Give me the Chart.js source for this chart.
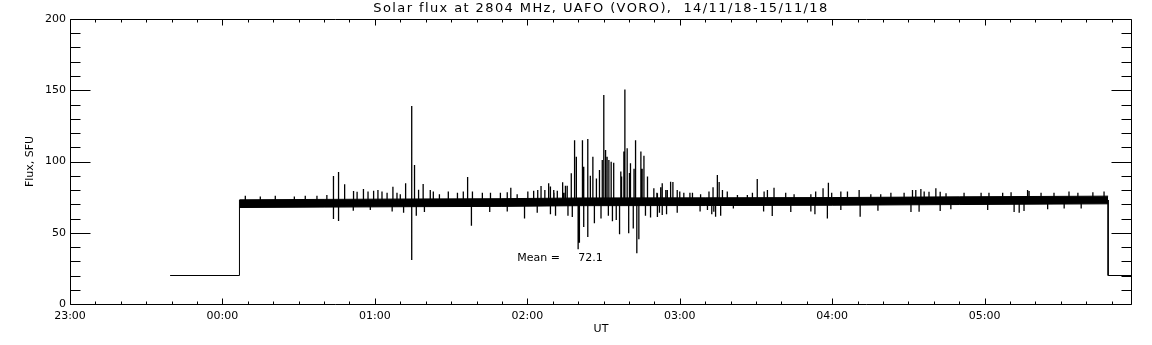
<!DOCTYPE html>
<html>
<head>
<meta charset="utf-8">
<title>Solar flux at 2804 MHz</title>
<script src="https://cdn.jsdelivr.net/npm/chart.js@4/dist/chart.umd.min.js"></script>
<style>
  html, body { margin: 0; padding: 0; background: #fff; }
</style>
</head>
<body>
<canvas id="fluxChart" width="1152" height="345"></canvas>
<script>
// x values are minutes after 23:00 UT (14/11/18)
const hourLabels = ['23:00', '00:00', '01:00', '02:00', '03:00', '04:00', '05:00'];
const yTicks = [0, 50, 100, 150, 200];

// quiet-sun band (lower / upper edge of the dense trace)
const bandTimes = [66.7, 100, 135, 170, 200, 250, 300, 350, 408.6];
const bandLow   = [67.7, 68.0, 68.3, 68.5, 69.0, 69.1, 69.3, 69.8, 70.3];
const bandHigh  = [73.1, 73.4, 73.7, 73.9, 74.4, 74.5, 74.7, 75.2, 75.7];

// receiver off: step at start and at end of the record
const offTimes  = [39.4, 66.7, 66.7, 66.7, 408.6, 408.6, 418];
const offValues = [20, 20, 73, null, 73, 20, 20];

// bursts / dips
const spikeBase = 72;
const spikeTimes = [103.7, 103.7, 105.7, 105.7, 108.1, 111.6, 115.5, 127.1, 132.1, 134.5,
  134.5, 135.6, 136.3, 139.0, 141.8, 145.4, 156.5, 158.0, 173.5, 178.9,
  185.4, 188.4, 190.5, 193.9, 195.0, 196.0, 197.3, 198.6, 199.3, 200.0,
  200.5, 201.7, 202.2, 202.2, 203.8, 203.8, 204.8, 205.8, 206.4, 207.2,
  208.4, 209.0, 209.5, 210.1, 210.8, 211.4, 211.9, 212.1, 213.0, 213.5,
  214.0, 215.0, 216.3, 216.8, 217.1, 218.0, 218.4, 219.3, 219.9, 220.2,
  220.6, 221.7, 222.0, 222.6, 223.1, 223.9, 224.7, 225.2, 225.9, 226.5,
  227.3, 228.5, 229.8, 231.0, 232.0, 233.1, 234.5, 236.4, 237.3, 240.0,
  244.0, 248.0, 253.4, 254.1, 254.8, 255.5, 270.5, 276.4, 277.1, 293.2,
  296.4, 298.1, 298.5, 311.0, 331.6, 334.2, 334.9, 338.1, 340.8, 342.5,
  342.5, 373.6, 375.5, 377.5];
const spikeValues = [89.8, 59.6, 92.6, 58.2, 84, 79.3, 80.7, 82.3, 84.7, 139,
  30.9, 97.5, 62, 84.2, 80, 77, 89.1, 55, 81.5, 60,
  82.8, 84.7, 78, 85.4, 83, 62, 91.7, 115, 103.4, 38.4,
  43, 115, 96.4, 54, 115.8, 47, 90, 103.4, 56.6, 88,
  94, 60, 101, 146.7, 108, 103.4, 62, 101, 99.9, 58,
  99.2, 59, 49, 93, 89.4, 107, 150.6, 109.3, 49.6, 92,
  98.7, 53, 95, 115, 35.6, 45.5, 107, 95, 104, 62,
  89.4, 60.7, 81.2, 78, 64, 84.7, 80, 85.8, 85.6, 79,
  78, 65, 64.8, 61.3, 90.5, 85.6, 87.7, 61.8, 81.6, 63,
  81.2, 60, 85.1, 61.3, 80, 64.8, 80.7, 78.8, 81.2, 78.8,
  65.3, 64, 65.3, 79.3];

// small excursions along the edges of the band
const fuzzTimes = [69.0, 74.9, 80.8, 88.3, 92.6, 97.2, 101.1, 111.5, 113.0, 117.3,
  118.2, 119.5, 121.2, 122.8, 124.8, 126.8, 128.7, 130.0, 131.3, 137.2,
  139.5, 143.0, 148.9, 152.5, 154.8, 158.4, 162.3, 165.2, 165.5, 169.4,
  172.1, 172.1, 176.0, 180.2, 182.5, 183.9, 184.1, 186.9, 189.1, 189.1,
  190.4, 191.1, 191.8, 194.4, 195.7, 197.7, 231.2, 231.2, 232.5, 233.1,
  234.8, 235.1, 239.0, 239.0, 241.6, 245.0, 248.2, 250.9, 251.5, 252.6,
  253.1, 256.1, 256.8, 258.7, 261.1, 262.7, 266.6, 268.6, 273.0, 273.2,
  274.5, 281.7, 283.7, 285.0, 291.6, 291.6, 293.5, 299.8, 303.4, 303.4,
  306.0, 310.6, 315.2, 318.0, 319.1, 323.1, 328.3, 331.0, 332.9, 336.2,
  344.8, 346.7, 351.9, 358.6, 361.2, 361.7, 367.1, 370.4, 371.6, 376.9,
  382.2, 384.8, 387.3, 391.3, 393.2, 396.7, 398.0, 402.6, 407.0];
const fuzzValues = [76, 75.5, 76, 75.5, 76, 76, 76.5, 65.5, 78.8, 79,
  66, 79.5, 80, 79, 78, 65, 78, 77, 64, 80.2,
  64.5, 79, 79, 78, 79, 79, 78, 64.5, 78, 78,
  78.5, 65, 77, 79, 79.5, 64, 80, 80, 82.5, 63,
  80, 62, 79.5, 78, 83, 61, 77.7, 61, 82, 62.5,
  63, 80, 80, 64, 78, 78, 77, 66, 79, 63,
  82, 62, 80, 79, 67, 76.5, 76.5, 78, 65, 79,
  80, 78, 64.5, 77, 77, 65, 79, 78, 79, 66,
  79, 80, 77, 65.5, 77, 78, 78, 64.5, 80, 79,
  77.7, 66.5, 78, 78, 66, 78, 78, 78.5, 64.5, 80,
  78, 66.5, 78, 67, 79, 78, 67, 78.5, 79];

const meanValue = 72.1;
const xMax = 418;

const fontFamily = '"DejaVu Sans", sans-serif';

// each spike: baseline -> peak, then a gap
const spikePoints = [];
const addSpikes = (times, values) => times.forEach((t, i) => {
    spikePoints.push({ x: t, y: spikeBase });
    spikePoints.push({ x: t, y: values[i] });
    spikePoints.push({ x: t, y: null });
});
addSpikes(fuzzTimes, fuzzValues);
addSpikes(spikeTimes, spikeValues);

// box, inward ticks on all four sides, title and mean label
const framePlugin = {
    id: 'framePlugin',
    afterDatasetsDraw(chart) {
        const { ctx, chartArea: a, scales: { x, y } } = chart;
        ctx.save();
        ctx.strokeStyle = '#000';
        ctx.lineWidth = 1;
        ctx.beginPath();
        const L = a.left + 0.5, R = a.right - 0.5, T = a.top + 0.5, B = a.bottom + 0.5;
        ctx.moveTo(L, T); ctx.lineTo(R, T); ctx.lineTo(R, B); ctx.lineTo(L, B); ctx.closePath();

        for (let v = 0; v <= 200; v += 10) {
            const py = Math.round(y.getPixelForValue(v)) + 0.5;
            const len = v % 50 === 0 ? 20 : 10;
            ctx.moveTo(L, py); ctx.lineTo(L + len, py);
            ctx.moveTo(R, py); ctx.lineTo(R - len, py);
        }
        for (let m = 0; m <= xMax; m += 10) {
            const px = Math.round(x.getPixelForValue(m)) + 0.5;
            const len = m % 60 === 0 ? 6 : 3;
            ctx.moveTo(px, B); ctx.lineTo(px, B - len);
            ctx.moveTo(px, T); ctx.lineTo(px, T + len);
        }
        ctx.stroke();

        ctx.fillStyle = '#000';
        ctx.textBaseline = 'middle';
        ctx.font = '13px ' + fontFamily;
        ctx.textAlign = 'center';
        ctx.letterSpacing = '1.4px';
        ctx.fillText('Solar flux at 2804 MHz, UAFO (VORO),  14/11/18-15/11/18', (a.left + a.right) / 2, 9);
        ctx.letterSpacing = '0px';

        ctx.font = '11px ' + fontFamily;
        ctx.textAlign = 'left';
        ctx.fillText('Mean =', x.getPixelForValue(176), y.getPixelForValue(32));
        ctx.fillText(meanValue.toFixed(1), x.getPixelForValue(200), y.getPixelForValue(32));
        ctx.restore();
    }
};

const lineStyle = { borderColor: '#000', borderWidth: 1, pointRadius: 0, tension: 0 };

new Chart(document.getElementById('fluxChart'), {
    type: 'line',
    data: {
        datasets: [
            { ...lineStyle, data: bandTimes.map((t, i) => ({ x: t, y: bandLow[i] })), fill: false },
            { ...lineStyle, data: bandTimes.map((t, i) => ({ x: t, y: bandHigh[i] })), fill: '-1', backgroundColor: '#000' },
            { ...lineStyle, borderWidth: 1.3, data: spikePoints, spanGaps: false },
            { ...lineStyle, data: offTimes.map((t, i) => ({ x: t, y: offValues[i] })), spanGaps: false }
        ]
    },
    options: {
        responsive: false,
        animation: false,
        layout: { padding: { top: 19, right: 20, left: 0, bottom: 0 } },
        plugins: { legend: { display: false }, tooltip: { enabled: false }, title: { display: false } },
        scales: {
            x: {
                type: 'linear',
                min: 0,
                max: xMax,
                grid: { display: false, drawTicks: false },
                border: { display: false },
                afterBuildTicks: (scale) => { scale.ticks = hourLabels.map((_, i) => ({ value: i * 60 })); },
                ticks: {
                    autoSkip: false,
                    maxRotation: 0,
                    padding: 6,
                    color: '#000',
                    font: { family: fontFamily, size: 11 },
                    callback: (v) => hourLabels[Math.round(v / 60)]
                },
                title: {
                    display: true,
                    text: 'UT',
                    color: '#000',
                    font: { family: fontFamily, size: 11 },
                    padding: { top: 0, bottom: 9 }
                },
                afterFit: (scale) => { scale.height = 41; }
            },
            y: {
                min: 0,
                max: 200,
                grid: { display: false, drawTicks: false },
                border: { display: false },
                afterBuildTicks: (scale) => { scale.ticks = yTicks.map(v => ({ value: v })); },
                ticks: {
                    padding: 4,
                    color: '#000',
                    font: { family: fontFamily, size: 11 }
                },
                title: {
                    display: true,
                    text: 'Flux, SFU',
                    color: '#000',
                    font: { family: fontFamily, size: 11 },
                    padding: { top: 24, bottom: 0 }
                },
                afterFit: (scale) => { scale.width = 70; }
            }
        }
    },
    plugins: [framePlugin]
});
</script>
</body>
</html>
